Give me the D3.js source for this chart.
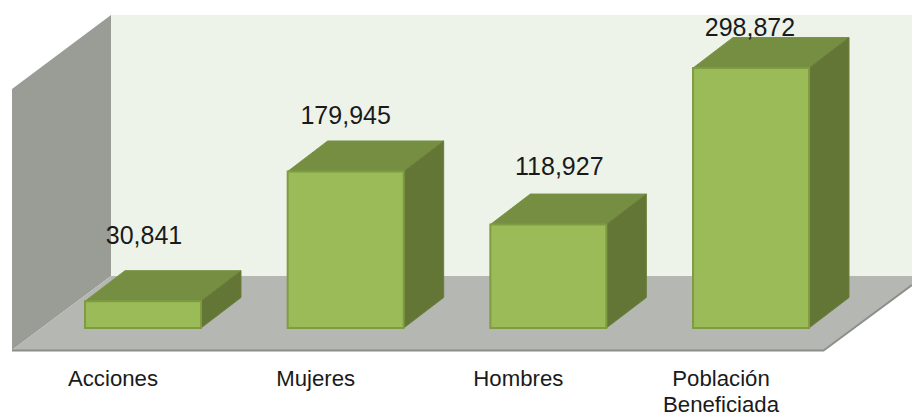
<!DOCTYPE html>
<html><head><meta charset="utf-8">
<script src="https://cdnjs.cloudflare.com/ajax/libs/d3/7.8.5/d3.min.js"></script>
<style>html,body{margin:0;padding:0;background:#fff}svg{display:block}</style>
</head><body><div id="c"></div>
<script>
const categories = ["Acciones","Mujeres","Hombres","Población Beneficiada"];
const values = [30841,179945,118927,298872];
const valueLabels = ["30,841","179,945","118,927","298,872"];

const W=912,H=415, floorY=328, depthX=40, depthY=30.5;
const labelLift=[57,47,50,32], labelShift=[1,0,11,-1];
const svg=d3.select("#c").append("svg").attr("width",W).attr("height",H);
const x=d3.scaleBand().domain(categories).range([85,809]).paddingInner(0.4277).paddingOuter(0);
const y=d3.scaleLinear().domain([0,298872]).range([floorY,68]);
const font='"Liberation Sans",Arial,sans-serif';
const poly=(pts,fill,stroke,sw)=>svg.append("polygon").attr("points",pts.map(p=>p.join(",")).join(" ")).attr("fill",fill).attr("stroke",stroke||"none").attr("stroke-width",sw||0);

// walls and floor
poly([[111,15],[912,15],[912,276],[111,276]],"#eef3ea");
poly([[12,89],[111,15],[111,276],[12,350]],"#9a9c96");
poly([[12,350],[111,276],[912,276],[912,285],[823,350]],"#b5b7b2");
svg.append("path").attr("d","M12,350.5H823.5L912,285").attr("fill","none").attr("stroke","#8c8e8a").attr("stroke-width",2);

// bars
categories.forEach((c,i)=>{
  const a=x(c),b=a+x.bandwidth(),t=y(values[i]),f=floorY;
  poly([[a,t],[a+depthX,t-depthY],[b+depthX,t-depthY],[b,t]],"#768e42","#7a9346",1);
  poly([[b,t],[b+depthX,t-depthY],[b+depthX,f-depthY],[b,f]],"#647636","#6a7e3c",1);
  poly([[a,t],[b,t],[b,f],[a,f]],"#9bbb59","#7f9c43",2);
  svg.append("text").attr("x",a+x.bandwidth()/2+labelShift[i]).attr("y",t-labelLift[i])
    .attr("text-anchor","middle").attr("font-family",font).attr("font-size",25).attr("fill","#1a1a1a").text(valueLabels[i]);
});

// category axis
const ax=svg.append("g").attr("transform","translate(-30,0)")
  .call(d3.axisBottom(x).tickSize(0));
ax.attr("transform","translate(-30,386)");
ax.select(".domain").remove();
ax.selectAll("text").attr("font-family",font).attr("font-size",22.2).attr("fill","#1a1a1a").attr("y",0).attr("dy",0)
 .each(function(d){
   const w=d.split(" ");const s=d3.select(this).text(null);
   w.forEach((t,i)=>s.append("tspan").attr("x",0).attr("dy",i?26:0).text(t));
 });
</script></body></html>
